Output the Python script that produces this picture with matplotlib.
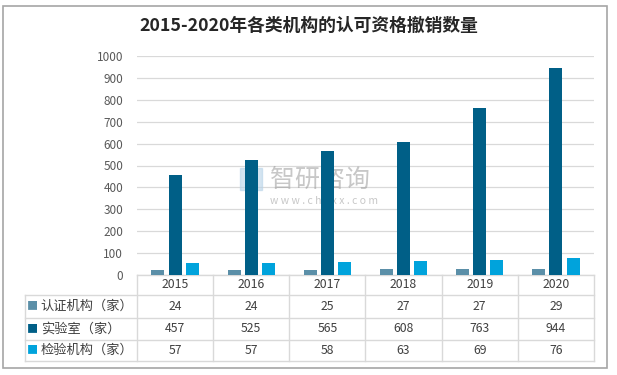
import numpy as np
import matplotlib.pyplot as plt
from matplotlib.patches import Rectangle

plt.rcParams['font.family'] = ['Noto Sans CJK SC', 'DejaVu Sans']

years = ['2015', '2016', '2017', '2018', '2019', '2020']
series_names = ['认证机构（家）', '实验室（家）', '检验机构（家）']
cert = [24, 24, 25, 27, 27, 29]
lab = [457, 525, 565, 608, 763, 944]
inspect = [57, 57, 58, 63, 69, 76]
colors = ['#5b8fa8', '#005f87', '#00a3dc']

W, H = 617, 375
fig = plt.figure(figsize=(W / 100, H / 100), dpi=100)
fig.patches.append(Rectangle((3 / W, 1 - 368 / H), 604 / W, 362 / H,
                             transform=fig.transFigure, fill=False,
                             edgecolor='#a6a6a6', lw=1.2))
fig.text(0.5, 1 - 26 / H, '2015-2020年各类机构的认可资格撤销数量',
         ha='center', va='center', fontsize=12.8, fontweight='bold', color='#262626')

ax = fig.add_axes([137 / W, 1 - 275 / H, 457 / W, 219 / H])
x = np.arange(len(years))
bw = 0.17
step = 0.225
for k, vals in enumerate([cert, lab, inspect]):
    ax.bar(x + (k - 1) * step, vals, width=bw, color=colors[k], zorder=3)

ax.set_xlim(-0.5, len(years) - 0.5)
ax.set_ylim(0, 1000)
ax.set_yticks(range(0, 1001, 100))
ax.yaxis.grid(True, color='#d9d9d9', lw=0.9, zorder=0)
ax.tick_params(axis='y', length=0, pad=10, labelsize=8.5, labelcolor='#595959')
ax.set_xticks([])
for s in ax.spines.values():
    s.set_visible(False)

# watermark
ax.text(0.29, 0.435, '智研咨询', transform=ax.transAxes, fontsize=18,
        color='#9a9a9a', alpha=0.55, va='center', ha='left', zorder=2)
ax.text(0.292, 0.34, 'w w w . c h y x x . c o m', transform=ax.transAxes, fontsize=7.5,
        color='#9a9a9a', alpha=0.55, va='center', ha='left', zorder=2)
ax.add_patch(Rectangle((0.225, 0.39), 0.048, 0.1, transform=ax.transAxes,
                       color='#b8d3e8', alpha=0.6, zorder=2))

# data table below axes
tr = ax.get_xaxis_transform()
ah = 219.0
rows_y = [0, -20 / ah, -43 / ah, -65 / ah, -86 / ah]
left = -0.5 - 112 / 76
right = len(years) - 0.5
gc = '#d9d9d9'
kw = dict(transform=tr, clip_on=False, color=gc, lw=1)
for i, yv in enumerate(rows_y):
    x0 = -0.5 if i == 0 else left
    ax.plot([x0, right], [yv, yv], **kw)
ax.plot([left, left], [rows_y[1], rows_y[-1]], **kw)
for b in np.arange(-0.5, len(years), 1.0):
    ax.plot([b, b], [rows_y[0], rows_y[-1]], **kw)

tc = '#404040'
for i, yr in enumerate(years):
    ax.text(i, (rows_y[0] + rows_y[1]) / 2, yr, transform=tr, ha='center', va='center',
            fontsize=8.8, color=tc)
for r, vals in enumerate([cert, lab, inspect]):
    yc = (rows_y[r + 1] + rows_y[r + 2]) / 2
    ax.text(-0.5 - 104 / 76, yc, '■', transform=tr, ha='center', va='center',
            fontsize=8, color=colors[r])
    ax.text(-0.5 - 96 / 76, yc, series_names[r], transform=tr, ha='left', va='center',
            fontsize=9.5, color=tc)
    for i, v in enumerate(vals):
        ax.text(i, yc, str(v), transform=tr, ha='center', va='center', fontsize=8.8, color=tc)

fig.savefig('out.png', dpi=100)
